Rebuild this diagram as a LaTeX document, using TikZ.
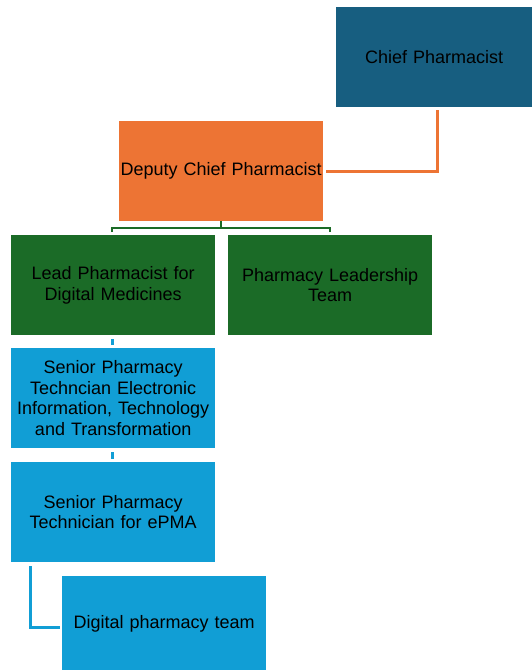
\documentclass[tikz,border=0pt]{standalone}
\usepackage{fontspec}
\setmainfont{Liberation Sans}
\begin{document}
\begin{tikzpicture}[x=1pt,y=-1pt,
  box/.style={draw=none, minimum width=204pt, minimum height=100pt, inner sep=0pt,
              align=center, text width=204pt, font=\fontsize{18}{20.5}\selectfont, anchor=north west},
  chief/.style={box, fill=chiefblue, minimum width=196pt, text width=196pt},
  deputy/.style={box, fill=deputyorange},
  lead/.style={box, fill=leadgreen},
  tech/.style={box, fill=techblue},
  link/.style={line width=3pt}]
\definecolor{chiefblue}{RGB}{23,94,128}
\definecolor{deputyorange}{RGB}{237,116,52}
\definecolor{leadgreen}{RGB}{27,107,39}
\definecolor{techblue}{RGB}{17,158,213}
\useasboundingbox (0,0) rectangle (531,670);
\node[chief]  (chief)  at (336,7)   {Chief Pharmacist};
\node[deputy] (deputy) at (119,121) {Deputy Chief Pharmacist};
\node[lead]   (lead)   at (11,235)  {Lead Pharmacist for\\Digital Medicines};
\node[lead]   (plt)    at (228,235) {Pharmacy Leadership\\Team};
\node[tech]   (snr1)   at (11,348)  {Senior Pharmacy\\Techncian Electronic\\Information, Technology\\and Transformation};
\node[tech]   (snr2)   at (11,462)  {Senior Pharmacy\\Technician for ePMA};
\node[tech, minimum height=95pt] (team) at (62,576) {Digital pharmacy team};
% chief to deputy (note: y axis points down, so a negative yshift moves down)
\coordinate (cbend) at (437,171);
\draw[link, draw=deputyorange] ([yshift=-3pt]chief.south -| cbend) -- (cbend) -- ([xshift=3pt]deputy.east |- cbend);
% deputy to its two reports
\coordinate (bl) at (112,228);
\coordinate (br) at (330,228);
\draw[link, draw=leadgreen, line width=2.5pt] ([yshift=-4pt]bl) -- (bl) -- (br) -- ([yshift=-4pt]br);
\draw[link, draw=leadgreen, line width=2.5pt] (deputy.south) -- (deputy.south |- bl);
% vertical chain of the digital team
\draw[link, draw=techblue] ([yshift=-4pt]lead.south -| bl) -- ([yshift=3pt]snr1.north -| bl);
\draw[link, draw=techblue] ([yshift=-4pt]snr1.south -| bl) -- ([yshift=3pt]snr2.north -| bl);
\coordinate (tbend) at (30,627);
\draw[link, draw=techblue] ([yshift=-4pt]snr2.south -| tbend) -- (tbend) -- ([xshift=-2pt]team.west |- tbend);
\end{tikzpicture}
\end{document}
